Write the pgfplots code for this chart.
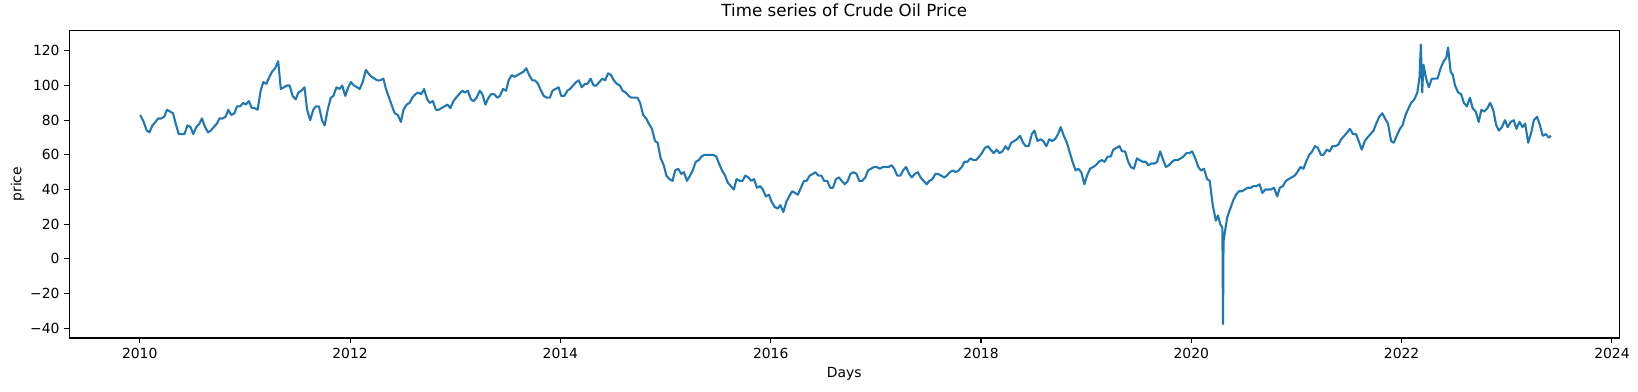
\documentclass[border=0pt]{standalone}
\usepackage{pgfplots}
\usepackage{pgfplotstable}
\pgfplotsset{compat=1.18}
\usepackage{fontspec}
\setmainfont{DejaVu Sans}
\definecolor{mplblue}{HTML}{1F77B4}

% t = months since Jan 2010, p = price
\pgfplotstableread[row sep=\\]{
t p\\
0.05 83\\ 0.45 79\\ 0.8 74\\
1.1 73\\ 1.45 77\\ 1.8 79\\
2.1 81\\ 2.45 81\\ 2.8 82\\
3.1 86\\ 3.45 85\\ 3.8 84\\
4.1 78\\ 4.45 72\\ 4.8 72\\
5.1 72\\ 5.45 77\\ 5.8 76\\
6.1 72\\ 6.45 76\\ 6.8 78\\
7.1 81\\ 7.45 76\\ 7.8 73\\
8.1 74\\ 8.45 76\\ 8.8 78\\
9.1 81\\ 9.45 81\\ 9.8 82\\
10.1 86\\ 10.45 83\\ 10.8 84\\
11.1 88\\ 11.45 88\\ 11.8 90\\
12.1 89\\ 12.45 91\\ 12.8 87\\
13.1 87\\ 13.45 86\\ 13.8 97\\
14.1 102\\ 14.45 101\\ 14.8 105\\
15.1 108\\ 15.45 110\\ 15.8 114\\
16.1 98\\ 16.45 99\\ 16.8 100\\
17.1 100\\ 17.45 94\\ 17.8 92\\
18.1 96\\ 18.45 97\\ 18.8 99\\
19.1 86\\ 19.45 80\\ 19.8 86\\
20.1 88\\ 20.45 88\\ 20.8 80\\
21.1 77\\ 21.45 86\\ 21.8 93\\
22.1 94\\ 22.45 99\\ 22.8 98\\
23.1 100\\ 23.45 94\\ 23.8 99\\
24.1 102\\ 24.45 100\\ 24.8 99\\
25.1 98\\ 25.45 102\\ 25.8 109\\
26.1 107\\ 26.45 105\\ 26.8 104\\
27.1 103\\ 27.45 103\\ 27.8 104\\
28.1 98\\ 28.45 93\\ 28.8 88\\
29.1 84\\ 29.45 83\\ 29.8 79\\
30.1 86\\ 30.45 89\\ 30.8 90\\
31.1 93\\ 31.45 95\\ 31.8 96\\
32.1 95\\ 32.45 98\\ 32.8 92\\
33.1 90\\ 33.45 91\\ 33.8 86\\
34.1 86\\ 34.45 87\\ 34.8 88\\
35.1 89\\ 35.45 87\\ 35.8 91\\
36.1 93\\ 36.45 95\\ 36.8 97\\
37.1 96\\ 37.45 97\\ 37.8 92\\
38.1 91\\ 38.45 93\\ 38.8 97\\
39.1 95\\ 39.45 89\\ 39.8 93\\
40.1 95\\ 40.45 95\\ 40.8 93\\
41.1 94\\ 41.45 98\\ 41.8 97\\
42.1 103\\ 42.45 106\\ 42.8 105\\
43.1 106\\ 43.45 107\\ 43.8 108\\
44.1 110\\ 44.45 106\\ 44.8 103\\
45.1 103\\ 45.45 101\\ 45.8 97\\
46.1 94\\ 46.45 93\\ 46.8 93\\
47.1 97\\ 47.45 98\\ 47.8 99\\
48.1 94\\ 48.45 94\\ 48.8 97\\
49.1 98\\ 49.45 100\\ 49.8 102\\
50.1 103\\ 50.45 99\\ 50.8 101\\
51.1 101\\ 51.45 104\\ 51.8 100\\
52.1 100\\ 52.45 102\\ 52.8 104\\
53.1 103\\ 53.45 107\\ 53.8 106\\
54.1 103\\ 54.45 101\\ 54.8 100\\
55.1 97\\ 55.45 96\\ 55.8 94\\
56.1 93\\ 56.45 93\\ 56.8 93\\
57.1 90\\ 57.45 83\\ 57.8 81\\
58.1 78\\ 58.45 75\\ 58.8 68\\
59.1 67\\ 59.45 58\\ 59.8 54\\
60.1 48\\ 60.45 46\\ 60.8 45\\
61.1 51\\ 61.45 52\\ 61.8 49\\
62.1 50\\ 62.45 45\\ 62.8 48\\
63.1 51\\ 63.45 56\\ 63.8 57\\
64.1 59\\ 64.45 60\\ 64.8 60\\
65.1 60\\ 65.45 60\\ 65.8 59\\
66.1 55\\ 66.45 51\\ 66.8 48\\
67.1 44\\ 67.45 42\\ 67.8 40\\
68.1 46\\ 68.45 45\\ 68.8 45\\
69.1 48\\ 69.45 47\\ 69.8 45\\
70.1 46\\ 70.45 41\\ 70.8 42\\
71.1 40\\ 71.45 36\\ 71.8 37\\
72.1 33\\ 72.45 30\\ 72.8 29\\
73.1 31\\ 73.45 27\\ 73.8 33\\
74.1 36\\ 74.45 39\\ 74.8 38\\
75.1 37\\ 75.45 41\\ 75.8 45\\
76.1 45\\ 76.45 48\\ 76.8 49\\
77.1 50\\ 77.45 48\\ 77.8 48\\
78.1 45\\ 78.45 45\\ 78.8 41\\
79.1 41\\ 79.45 46\\ 79.8 47\\
80.1 45\\ 80.45 43\\ 80.8 45\\
81.1 49\\ 81.45 50\\ 81.8 49\\
82.1 45\\ 82.45 45\\ 82.8 47\\
83.1 51\\ 83.45 52\\ 83.8 53\\
84.1 53\\ 84.45 52\\ 84.8 53\\
85.1 53\\ 85.45 53\\ 85.8 54\\
86.1 52\\ 86.45 48\\ 86.8 48\\
87.1 51\\ 87.45 53\\ 87.8 49\\
88.1 47\\ 88.45 49\\ 88.8 50\\
89.1 47\\ 89.45 45\\ 89.8 43\\
90.1 45\\ 90.45 46\\ 90.8 49\\
91.1 49\\ 91.45 48\\ 91.8 47\\
92.1 48\\ 92.45 50\\ 92.8 51\\
93.1 50\\ 93.45 51\\ 93.8 53\\
94.1 56\\ 94.45 56\\ 94.8 58\\
95.1 57\\ 95.45 57\\ 95.8 59\\
96.1 61\\ 96.45 64\\ 96.8 65\\
97.1 63\\ 97.45 61\\ 97.8 63\\
98.1 61\\ 98.45 62\\ 98.8 65\\
99.1 63\\ 99.45 67\\ 99.8 68\\
100.1 69\\ 100.45 71\\ 100.8 67\\
101.1 65\\ 101.45 65\\ 101.8 72\\
102.1 74\\ 102.45 68\\ 102.8 69\\
103.1 68\\ 103.45 65\\ 103.8 69\\
104.1 68\\ 104.45 69\\ 104.8 72\\
105.1 76\\ 105.45 71\\ 105.8 67\\
106.1 62\\ 106.45 56\\ 106.8 51\\
107.1 52\\ 107.45 50\\ 107.8 43\\
108.1 48\\ 108.45 52\\ 108.8 53\\
109.1 54\\ 109.45 56\\ 109.8 57\\
110.1 56\\ 110.45 59\\ 110.8 59\\
111.1 63\\ 111.45 64\\ 111.8 65\\
112.1 62\\ 112.45 62\\ 112.8 56\\
113.1 53\\ 113.45 52\\ 113.8 58\\
114.1 57\\ 114.45 56\\ 114.8 56\\
115.1 54\\ 115.45 55\\ 115.8 55\\
116.1 56\\ 116.45 62\\ 116.8 57\\
117.1 53\\ 117.45 54\\ 117.8 56\\
118.1 57\\ 118.45 57\\ 118.8 58\\
119.1 59\\ 119.45 61\\ 119.8 61\\
120.1 62\\ 120.45 58\\ 120.8 53\\
121.1 51\\ 121.45 52\\ 121.8 46\\
122.1 45\\ 122.45 31\\ 122.8 22\\
123.05 25\\ 123.3 20\\ 123.55 18\\ 123.62 -37.6\\ 123.68 10\\ 123.85 16\\
124.1 24\\ 124.45 29\\ 124.8 34\\
125.1 37\\ 125.45 39\\ 125.8 39\\
126.1 40\\ 126.45 41\\ 126.8 41\\
127.1 42\\ 127.45 42\\ 127.8 43\\
128.1 38\\ 128.45 40\\ 128.8 40\\
129.1 40\\ 129.45 41\\ 129.8 36\\
130.1 41\\ 130.45 42\\ 130.8 45\\
131.1 46\\ 131.45 47\\ 131.8 48\\
132.1 50\\ 132.45 53\\ 132.8 52\\
133.1 56\\ 133.45 60\\ 133.8 62\\
134.1 65\\ 134.45 64\\ 134.8 60\\
135.1 60\\ 135.45 63\\ 135.8 62\\
136.1 65\\ 136.45 65\\ 136.8 66\\
137.1 69\\ 137.45 71\\ 137.8 73\\
138.1 75\\ 138.45 72\\ 138.8 72\\
139.1 68\\ 139.45 63\\ 139.8 68\\
140.1 70\\ 140.45 72\\ 140.8 74\\
141.1 78\\ 141.45 82\\ 141.8 84\\
142.1 81\\ 142.45 78\\ 142.8 68\\
143.1 67\\ 143.45 71\\ 143.8 75\\
144.1 77\\ 144.45 83\\ 144.8 87\\
145.1 90\\ 145.45 92\\ 145.8 96\\
146.05 105\\ 146.2 123.7\\ 146.35 96\\ 146.5 112\\ 146.8 104\\
147.1 99\\ 147.45 104\\ 147.8 104\\
148.1 104\\ 148.45 110\\ 148.8 114\\
149.1 116\\ 149.3 122\\ 149.6 108\\ 149.85 106\\
150.1 100\\ 150.45 96\\ 150.8 95\\
151.1 90\\ 151.45 88\\ 151.8 93\\
152.1 87\\ 152.45 85\\ 152.8 79\\
153.1 86\\ 153.45 85\\ 153.8 87\\
154.1 90\\ 154.45 86\\ 154.8 77\\
155.1 74\\ 155.45 76\\ 155.8 80\\
156.1 76\\ 156.45 79\\ 156.8 80\\
157.1 75\\ 157.45 79\\ 157.8 76\\
158.1 78\\ 158.45 67\\ 158.8 73\\
159.1 80\\ 159.45 82\\ 159.8 77\\
160.1 71\\ 160.45 72\\ 160.8 70\\
161.05 71\\
}\oil

\begin{document}
\begin{tikzpicture}
\useasboundingbox (-49.9pt,-38.2pt) rectangle (1129.5pt,243.4pt);
\begin{axis}[
  at={(0,0)}, anchor=south west,
  scale only axis, width=1116pt, height=221.5pt,
  xmin=2009.33, xmax=2024.07, ymin=-45.7, ymax=131.8,
  axis line style={line width=0.8pt},
  tick align=outside, tick pos=left,
  major tick length=3.5pt,
  every tick/.style={black, line width=0.8pt},
  xtick={2010,2012,2014,2016,2018,2020,2022,2024},
  xticklabels={2010,2012,2014,2016,2018,2020,2022,2024},
  ytick={-40,-20,0,20,40,60,80,100,120},
  yticklabels={−40,−20,0,20,40,60,80,100,120},
  tick label style={font=\fontsize{10}{12}\selectfont},
  title={Time series of Crude Oil Price},
  title style={font=\fontsize{12}{14}\selectfont},
  xlabel={Days}, ylabel={price},
  label style={font=\fontsize{10}{12}\selectfont},
  ylabel style={yshift=-2.5pt},
]
\addplot[mplblue, line width=1.5pt, line join=round]
  table[x expr=2010+\thisrow{t}/12, y=p] {\oil};
\end{axis}
\end{tikzpicture}
\end{document}
